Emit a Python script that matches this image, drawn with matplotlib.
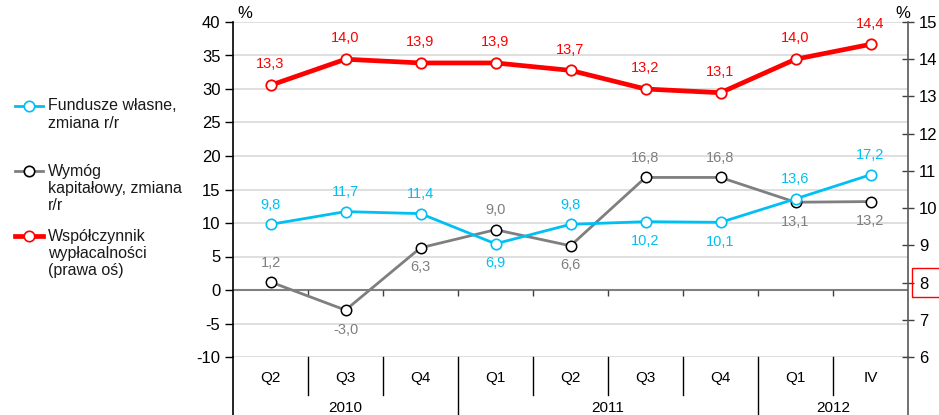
import matplotlib
matplotlib.use("Agg")
import matplotlib.pyplot as plt
from matplotlib.lines import Line2D
from matplotlib.patches import Rectangle

plt.rcParams["font.family"] = ["Liberation Sans", "DejaVu Sans"]
plt.rcParams["axes.unicode_minus"] = False

# ---------------------------------------------------------------------------
# Data
# ---------------------------------------------------------------------------
quarters = ["Q2", "Q3", "Q4", "Q1", "Q2", "Q3", "Q4", "Q1", "IV"]
years = ["2010", "2011", "2012"]
year_spans = [(0, 2), (3, 6), (7, 8)]

own_funds = [9.8, 11.7, 11.4, 6.9, 9.8, 10.2, 10.1, 13.6, 17.2]
capital_req = [1.2, -3.0, 6.3, 9.0, 6.6, 16.8, 16.8, 13.1, 13.2]
solvency = [13.3, 14.0, 13.9, 13.9, 13.7, 13.2, 13.1, 14.0, 14.4]

# label placement: +1 above the point, -1 below
own_funds_pos = [1, 1, 1, -1, 1, -1, -1, 1, 1]
capital_req_pos = [1, -1, -1, 1, -1, 1, 1, -1, -1]

CYAN = "#00c0f3"
GREY = "#7f7f7f"
RED = "#ff0000"


def fmt(v):
    return f"{v:.1f}".replace(".", ",")


W, H = 939, 415
fig = plt.figure(figsize=(W / 100, H / 100), dpi=100)
ax = fig.add_axes([233 / W, 58 / H, (908 - 233) / W, (393 - 58) / H])
ax2 = ax.twinx()

x = list(range(len(quarters)))
boundaries = [i + 0.5 for i in range(len(quarters) - 1)]

# ---------------------------------------------------------------------------
# Left axis
# ---------------------------------------------------------------------------
ax.set_xlim(-0.5, len(quarters) - 0.5)
ax.set_ylim(-10, 40)
ax.set_yticks(range(-10, 41, 5))
ax.yaxis.grid(True, color="#d9d9d9", linewidth=1.2)
ax.axhline(0, color="#808080", linewidth=1.5, zorder=1)
# category ticks hanging under the zero line
ax.vlines(boundaries, -0.9, 0, color="#404040", lw=1, zorder=1)
ax.set_axisbelow(True)
ax.set_xticks([])
for s in ["top", "bottom", "right"]:
    ax.spines[s].set_visible(False)
ax.spines["left"].set_color("black")
ax.spines["left"].set_linewidth(1.2)
ax.tick_params(axis="y", direction="out", length=6, width=1, labelsize=12,
               colors="black", pad=3)

ax.plot(x, own_funds, color=CYAN, lw=2, marker="o", ms=7.5,
        mfc="white", mec=CYAN, mew=1.2, zorder=4, clip_on=False)
ax.plot(x, capital_req, color=GREY, lw=2, marker="o", ms=7.5,
        mfc="white", mec="black", mew=1.1, zorder=3, clip_on=False)

for xi, v, p in zip(x, own_funds, own_funds_pos):
    ax.annotate(fmt(v), (xi, v), xytext=(0, 14 * p),
                textcoords="offset points", ha="center", va="center",
                color=CYAN, fontsize=10.5)
for xi, v, p in zip(x, capital_req, capital_req_pos):
    ax.annotate(fmt(v), (xi, v), xytext=(0, 14 * p),
                textcoords="offset points", ha="center", va="center",
                color=GREY, fontsize=10.5)

# ---------------------------------------------------------------------------
# Right axis
# ---------------------------------------------------------------------------
ax2.set_ylim(6, 15)
ax2.set_yticks(range(6, 16))
for s in ["top", "bottom", "left"]:
    ax2.spines[s].set_visible(False)
ax2.spines["right"].set_color("#595959")
ax2.spines["right"].set_linewidth(1.2)
ax2.tick_params(axis="y", direction="inout", length=8, width=1, labelsize=12,
                colors="black", pad=4)
ax2.tick_params(axis="y", color="#404040")

ax2.plot(x, solvency, color=RED, lw=3.4, marker="o", ms=7.5,
         mfc="white", mec=RED, mew=1.3, zorder=4, clip_on=False)
for xi, v in zip(x, solvency):
    ax2.annotate(fmt(v), (xi, v), xytext=(0, 15),
                 textcoords="offset points", ha="center", va="center",
                 color=RED, fontsize=10.5)

# percent units above both axes
fig.text(245 / W, 1 - 13 / H, "%", ha="center", va="center", fontsize=12)
fig.text(903 / W, 1 - 13 / H, "%", ha="center", va="center", fontsize=12)

# ---------------------------------------------------------------------------
# Two-level category axis drawn as a small table under the plot
# ---------------------------------------------------------------------------
tr = ax.get_xaxis_transform()
short_y, long_y = -0.113, -0.18
for i, q in enumerate(quarters):
    ax.text(i, -0.063, q, transform=tr, ha="center", va="center", fontsize=11)
year_breaks = [end + 0.5 for _, end in year_spans[:-1]]
for b in boundaries:
    bottom = long_y if b in year_breaks else short_y
    ax.plot([b, b], [0, bottom], transform=tr, color="black", lw=1, clip_on=False)
for b, col in [(-0.5, "black"), (len(quarters) - 0.5, "#595959")]:
    ax.plot([b, b], [0, long_y], transform=tr, color=col, lw=1.2, clip_on=False)
for yr, (a, b) in zip(years, year_spans):
    ax.text((a + b) / 2, -0.152, yr, transform=tr, ha="center", va="center", fontsize=11)

# ---------------------------------------------------------------------------
# Legend on the left
# ---------------------------------------------------------------------------
legend_items = [
    (["Fundusze własne,", "zmiana r/r"], CYAN, CYAN, 2, 106),
    (["Wymóg", "kapitałowy, zmiana", "r/r"], GREY, "black", 2, 171),
    (["Współczynnik", "wypłacalności", "(prawa oś)"], RED, RED, 3.4, 236),
]
for lines, lc, mec, lw, ypix in legend_items:
    yf = 1 - ypix / H
    fig.add_artist(Line2D([15 / W, 43 / W], [yf, yf], color=lc, lw=lw))
    fig.add_artist(Line2D([29 / W], [yf], marker="o", ms=7.5, mfc="white", mec=mec,
                          mew=1.2, linestyle="none"))
    for k, line in enumerate(lines):
        fig.text(48 / W, 1 - (ypix + 17 * k) / H, line, ha="left", va="center",
                 fontsize=11.5, color="#1a1a1a")

# red box around the right-axis label
fig.add_artist(Rectangle((912 / W, 1 - 297 / H), 30 / W, 29 / H, transform=fig.transFigure,
                         fill=False, edgecolor=RED, lw=1))

fig.savefig("out.png", dpi=100)
